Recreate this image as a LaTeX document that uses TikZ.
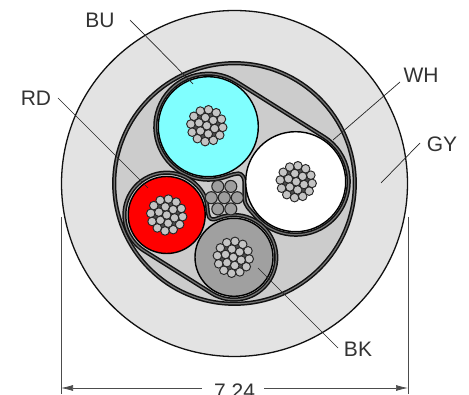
\documentclass[tikz,border=0pt]{standalone}
\usepackage{fontspec}
\setmainfont{Liberation Sans}
\usetikzlibrary{calc,arrows.meta}
\definecolor{sheath}{HTML}{E3E3E3}
\definecolor{filler}{HTML}{CCCCCC}
\definecolor{cyanish}{HTML}{80FFFF}
\definecolor{coreGrey}{HTML}{A0A0A0}
\definecolor{strandFill}{HTML}{C4C4C4}
\definecolor{inkDark}{HTML}{111111}
\tikzset{
  wall/.style={draw=inkDark,line width=1.3pt},
  band/.style={draw=inkDark,line width=1.5pt,double=black!55,double distance=1.2pt,line join=round},
  core/.style={draw=black,line width=1.4pt},
  strand/.style={draw=black!85,fill=strandFill,line width=.95pt},
  smallstrand/.style={draw=black!85,fill=black!38,line width=1.1pt},
  leader/.style={draw=black!85,line width=.7pt},
  dimline/.style={draw=black!70,line width=.7pt},
  lbl/.style={font=\fontsize{21}{21}\selectfont,text=black!80,inner sep=0pt}
}
\newcommand{\conductor}[1]{%
  \fill[black!70] (#1) circle[radius=14];
  \foreach \a in {0,...,11}{\draw[strand] ($(#1)+(84+30*\a:16)$) circle[radius=4.3];}
  \foreach \a in {0,...,5}{\draw[strand] ($(#1)+(100+60*\a:8.3)$) circle[radius=4.3];}
  \draw[strand] (#1) circle[radius=4.3];
}
\begin{document}
\begin{tikzpicture}[x=1pt,y=1pt]
\useasboundingbox (0,0) rectangle (469,394);
\clip (0,0) rectangle (469,394);
\coordinate (cable) at (234.5,210.5);
\coordinate (cblue) at (208.3,267.3);
\coordinate (cwhite) at (295.7,212.3);
\coordinate (cred) at (166.7,179);
\coordinate (cgrey) at (234,136.7);
\coordinate (cbundle) at (224.3,196.3);
% sheath and filler
\draw[wall,fill=sheath] (cable) circle[radius=173];
\draw[band,fill=filler] (cable) circle[radius=120.3];
% binder around blue and white
\path[band] ($(cblue)+(57.8:53)$) arc[start angle=57.8,end angle=275,radius=53]
  .. controls (225,215.5) and (232,220.5) .. (238.3,220.5)
  .. controls (242,220.5) and (244.5,216) .. (244.5,212)
  -- (244.5,196)
  .. controls (244.5,188) and (250,184.5) .. (255.1,178.2)
  arc[start angle=220,end angle=417.8,radius=53]
  -- cycle;
% binder around red and grey
\path[band] ($(cred)+(25:42.3)$) arc[start angle=25,end angle=237.9,radius=42.3]
  -- ($(cgrey)+(237.9:42.3)$) arc[start angle=237.9,end angle=472,radius=42.3]
  .. controls (215,174.5) and (211,173.5) .. (209,177)
  .. controls (207,181) and (208,190) .. cycle;
% cores
\draw[core,fill=cyanish] (cblue) circle[radius=50];
\draw[core,fill=white] (cwhite) circle[radius=50];
\draw[core,fill=red] (cred) circle[radius=38.5];
\draw[core,fill=coreGrey] (cgrey) circle[radius=39];
% conductors
\conductor{$(cblue)+(-1.5,1)$}
\conductor{$(cwhite)+(.5,0)$}
\conductor{cred}
\conductor{$(cgrey)+(-.7,0)$}
% drain bundle
\foreach \a in {0,60,...,300}{\draw[smallstrand] ($(cbundle)+(\a:13)$) circle[radius=6];}
\draw[smallstrand] (cbundle) circle[radius=6];
% labels
\node[lbl] (lblBU) at (100,374) {BU};
\node[lbl] (lblRD) at (36,296) {RD};
\node[lbl] (lblWH) at (421,319) {WH};
\node[lbl] (lblGY) at (442,250) {GY};
\node[lbl] (lblBK) at (358,45) {BK};
% leaders
\coordinate (buA) at (130,374); \coordinate (buB) at (193,310);
\coordinate (rdA) at (58,296);  \coordinate (rdB) at (148,206);
\coordinate (whA) at (400,312); \coordinate (whB) at (333,254);
\coordinate (gyA) at (420,251); \coordinate (gyB) at (381,211);
\coordinate (bkA) at (338,46);  \coordinate (bkB) at (258,126);
\draw[leader] (buA) -- (buB);
\draw[leader] (rdA) -- (rdB);
\draw[leader] (whA) -- (whB);
\draw[leader] (gyA) -- (gyB);
\draw[leader] (bkA) -- (bkB);
% dimension
\coordinate (dimLtop) at (61,177); \coordinate (dimLbot) at (61,0);
\coordinate (dimRtop) at (408,177); \coordinate (dimRbot) at (408,0);
\coordinate (dimL) at (61,6); \coordinate (dimR) at (408,6);
\draw[dimline] (dimLtop) -- (dimLbot);
\draw[dimline] (dimRtop) -- (dimRbot);
\node[lbl,anchor=base] (dimText) at (234.5,-4) {7.24};
\coordinate (gapL) at (201.5,6); \coordinate (gapR) at (264,6);
\draw[dimline,-{Latex[length=12pt,width=6pt]}] (gapL) -- (dimL);
\draw[dimline,-{Latex[length=12pt,width=6pt]}] (gapR) -- (dimR);
\end{tikzpicture}
\end{document}
